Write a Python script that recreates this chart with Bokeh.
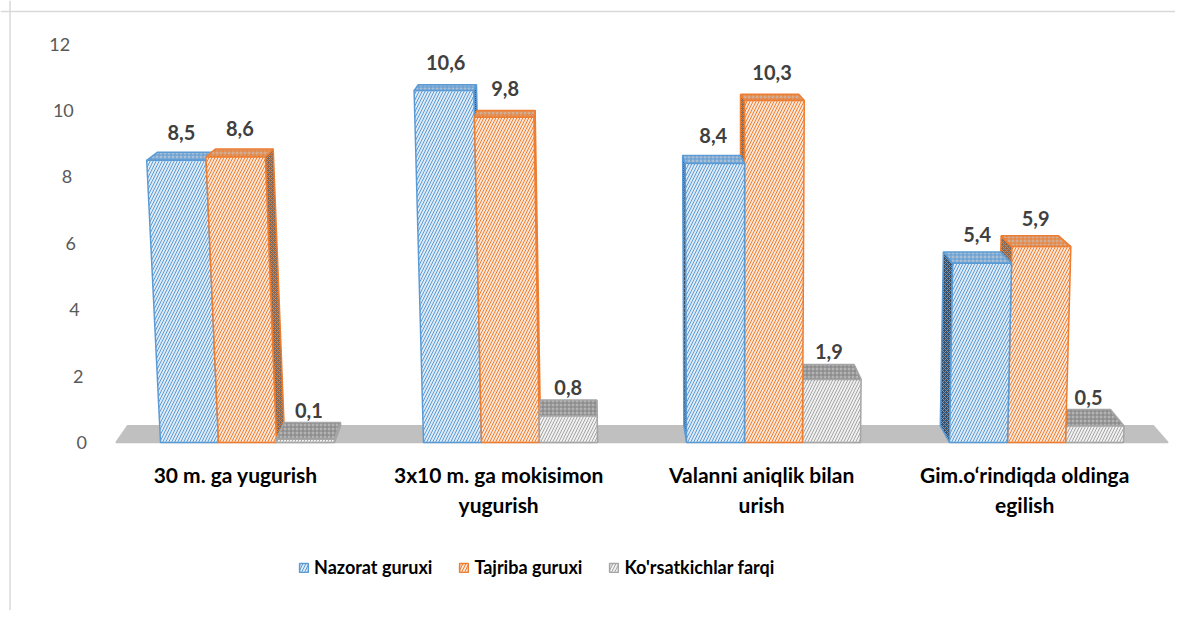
from bokeh.plotting import figure
from bokeh.models import ColumnDataSource, Span, Legend, LegendItem
from bokeh.embed import file_html
from bokeh.resources import INLINE
from bokeh.core.properties import value

# ---------------- data ----------------
categories = [
    "30 m. ga yugurish",
    "3x10 m. ga mokisimon\nyugurish",
    "Valanni aniqlik bilan\nurish",
    "Gim.o\u2018rindiqda oldinga\negilish",
]
series_names = ["Nazorat guruxi", "Tajriba guruxi", "Ko'rsatkichlar farqi"]
nazorat = [8.5, 10.6, 8.4, 5.4]
tajriba = [8.6, 9.8, 10.3, 5.9]
farqi = [0.1, 0.8, 1.9, 0.5]
y_ticks = [0, 2, 4, 6, 8, 10, 12]

series_values = [nazorat, tajriba, farqi]

# ---------------- styles ----------------
FONT = value("Lato")
FRONT_FILL = ["#deebf7", "#fde6d6", "#f0f0f0"]
HATCH_COL = ["#5b9bd5", "#ed7d31", "#a5a5a5"]
TOP_FILL = ["#a9bed3", "#cfae98", "#b3b3b3"]
TOP_HATCH = ["#5b9bd5", "#ed7d31", "#7f7f7f"]
SIDE_FILL = ["#3f4d5e", "#7c6b60", "#6f6f6f"]
FLOOR_COL = "#c0c0c0"

# pseudo-3D projection parameters (category / value units)
BW = 0.2205          # bar width
XC, LEAN = 1.875, 0.0028
VPX, FX = 1.266, 0.025
VPY, FY = 16.36, 0.031


def proj(x, y, z):
    xl = XC + (x - XC) * (1 + LEAN * y)
    return xl + z * FX * (VPX - xl), y + z * FY * (VPY - y)


def quad(pts):
    xs, ys = zip(*[proj(*p) for p in pts])
    return list(xs), list(ys)


# ---------------- figure ----------------
p = figure(width=1175, height=610,
           x_range=(-0.9392, 3.5285), y_range=(-5.060, 13.313),
           output_backend="svg", toolbar_location=None,
           x_axis_type=None, y_axis_type=None, min_border=0)
p.outline_line_color = None
p.background_fill_color = "white"
p.border_fill_color = "white"

faces = dict(xs=[], ys=[], fill=[], hatch=[], hcol=[], line=[], scale=[])


def add_face(xs, ys, fill, hatch, hcol, line, scale):
    faces["xs"].append(xs)
    faces["ys"].append(ys)
    faces["fill"].append(fill)
    faces["hatch"].append(hatch)
    faces["hcol"].append(hcol)
    faces["line"].append(line)
    faces["scale"].append(scale)


# floor
fx, fy = quad([(-0.5, 0, 0), (3.5, 0, 0), (3.5, 0, 1), (-0.5, 0, 1)])
add_face(fx, fy, FLOOR_COL, " ", FLOOR_COL, FLOOR_COL, 5)

bars = []
for g in range(len(categories)):
    for s, vals in enumerate(series_values):
        c = g + (s - 1) * BW
        bars.append((abs(c - VPX), g, s, c, vals[g]))
bars.sort(key=lambda b: -b[0])

legend_index = {}
for _, g, s, c, v in bars:
    x0, x1 = c - BW / 2, c + BW / 2
    # side face
    sx = x1 if c < VPX else x0
    xs, ys = quad([(sx, 0, 0), (sx, v, 0), (sx, v, 1), (sx, 0, 1)])
    add_face(xs, ys, SIDE_FILL[s], "x", HATCH_COL[s], HATCH_COL[s], 4)
    # top face
    xs, ys = quad([(x0, v, 0), (x1, v, 0), (x1, v, 1), (x0, v, 1)])
    add_face(xs, ys, TOP_FILL[s], "+", TOP_HATCH[s], HATCH_COL[s], 4)
    # front face
    xs, ys = quad([(x0, 0, 0), (x1, 0, 0), (x1, v, 0), (x0, v, 0)])
    add_face(xs, ys, FRONT_FILL[s], "/", HATCH_COL[s], HATCH_COL[s], 6)
    legend_index.setdefault(s, len(faces["xs"]) - 1)

src = ColumnDataSource(faces)
r = p.patches("xs", "ys", source=src, fill_color="fill", line_color="line",
              line_width=1.5, hatch_pattern="hatch", hatch_color="hcol",
              hatch_scale="scale", hatch_weight=1.0)

# data labels
lx, ly, lt = [], [], []
for g in range(len(categories)):
    for s, vals in enumerate(series_values):
        c = g + (s - 1) * BW
        v = vals[g]
        x, _ = proj(c, v, 0.5)
        lx.append(x)
        ly.append(v + 0.85)
        lt.append(f"{v:.1f}".replace(".", ","))
p.text(x=lx, y=ly, text=lt, text_font=FONT, text_font_style="bold",
       text_font_size="20px", text_color="#404040",
       text_align="center", text_baseline="middle")

# value axis labels (slanted by perspective)
tx = [proj(-0.63, t, 0)[0] for t in y_ticks]
p.text(x=tx, y=y_ticks, text=[str(t) for t in y_ticks], text_font=FONT,
       text_font_size="18px", text_color="#595959",
       text_align="center", text_baseline="middle")

# category labels
p.text(x=[g - 0.045 for g in range(len(categories))], y=[-0.6] * len(categories),
       text=categories, text_font=FONT, text_font_style="bold",
       text_font_size="21px", text_color="#000000", text_align="center",
       text_baseline="top", text_line_height=1.18)

# legend
items = [LegendItem(label=series_names[s], renderers=[r], index=legend_index[s])
         for s in range(3)]
legend = Legend(items=items, orientation="horizontal", location=(298, 32),
                label_text_font="Lato", label_text_font_style="bold",
                label_text_font_size="18px", label_text_color="#000000",
                glyph_width=11, glyph_height=11, label_standoff=5,
                spacing=26, padding=0, margin=0, label_height=20,
                border_line_color=None, background_fill_alpha=0)
p.add_layout(legend, "center")

# chart border (left and top edges)
p.add_layout(Span(location=-0.9030, dimension="height",
                  line_color="#d9d9d9", line_width=1.5))
p.add_layout(Span(location=12.98, dimension="width",
                  line_color="#d9d9d9", line_width=1.5))

open("out.html", "w").write(file_html(p, INLINE))
